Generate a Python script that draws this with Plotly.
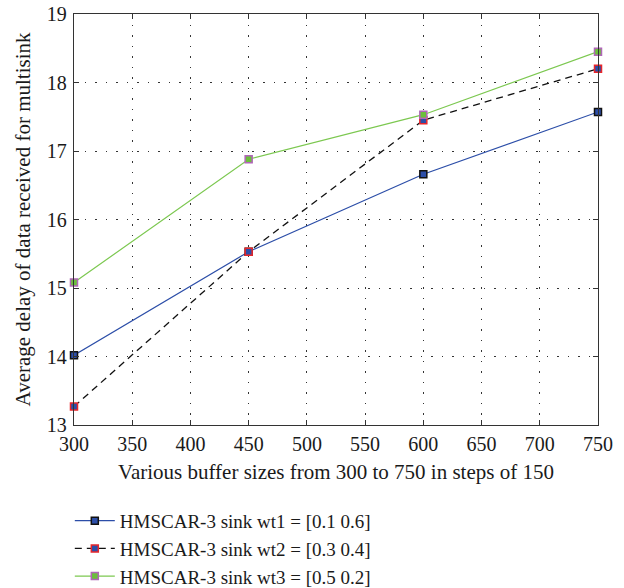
import plotly.graph_objects as go

buffer_sizes = [300, 450, 600, 750]
delay_wt1 = [14.02, 15.53, 16.66, 17.57]
delay_wt2 = [13.27, 15.53, 17.45, 18.20]
delay_wt3 = [15.08, 16.88, 17.53, 18.45]

series_names = [
    "HMSCAR-3 sink wt1 = [0.1 0.6]",
    "HMSCAR-3 sink wt2 = [0.3 0.4]",
    "HMSCAR-3 sink wt3 = [0.5 0.2]",
]

x_ticks = [300, 350, 400, 450, 500, 550, 600, 650, 700, 750]
y_ticks = [13, 14, 15, 16, 17, 18, 19]

FONT = "Liberation Serif"
TXT = "#1a1a1a"
TICK_FS = 20
TITLE_FS = 21
LEGEND_FS = 19

fig = go.Figure()

styles = [
    dict(line=dict(color="#2c4ea8", width=1.2),
         marker=dict(color="#2c4ea8", line=dict(color="#111111", width=1.5))),
    dict(line=dict(color="#111111", width=1.3, dash="7px,5px"),
         marker=dict(color="#2c4ea8", line=dict(color="#e8262b", width=1.5))),
    dict(line=dict(color="#7cc850", width=1.2),
         marker=dict(color="#6cbf3c", line=dict(color="#b067b8", width=1.5))),
]

for ys, name, st in zip([delay_wt1, delay_wt2, delay_wt3], series_names, styles):
    fig.add_trace(go.Scatter(
        x=buffer_sizes, y=ys, name=name, mode="lines+markers",
        line=st["line"],
        marker=dict(symbol="square", size=7, color=st["marker"]["color"],
                    line=st["marker"]["line"]),
        cliponaxis=False,
    ))

axis_common = dict(
    showline=True, linecolor="#333333", linewidth=1.3, mirror="ticks",
    ticks="inside", ticklen=5, tickcolor="#333333",
    showgrid=True, gridcolor="#333333", griddash="1.5px,9px", gridwidth=1,
    zeroline=False, automargin=False,
    tickfont=dict(family=FONT, size=TICK_FS, color=TXT),
)

fig.update_layout(
    width=624, height=588,
    margin=dict(l=74, r=26, t=14, b=163, autoexpand=False),
    paper_bgcolor="white", plot_bgcolor="white",
    font=dict(family=FONT, size=TICK_FS, color=TXT),
    xaxis=dict(range=[300, 750], tickvals=x_ticks, ticklabelstandoff=1,
               title=dict(text="Various buffer sizes from 300 to 750 in steps of 150",
                          font=dict(family=FONT, size=TITLE_FS, color=TXT), standoff=10),
               **axis_common),
    yaxis=dict(range=[13, 19], tickvals=y_ticks, ticklabelstandoff=2,
               title=dict(text="Average delay of data received for multisink",
                          font=dict(family=FONT, size=TITLE_FS, color=TXT), standoff=10),
               **axis_common),
    legend=dict(x=-0.008, y=-0.187, xanchor="left", yanchor="top",
                font=dict(family=FONT, size=LEGEND_FS, color=TXT),
                bgcolor="rgba(0,0,0,0)", tracegroupgap=0, itemwidth=40),
    showlegend=True,
)

fig.write_html("out.html")
